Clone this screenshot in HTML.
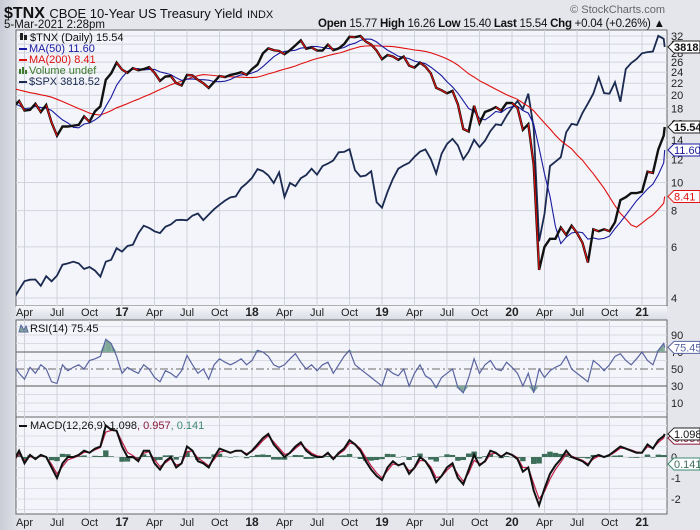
<!DOCTYPE html>
<html><head><meta charset="utf-8"><style>
body{margin:0;background:#fff;}
svg{display:block;font-family:"Liberation Sans",sans-serif;}
</style></head><body>
<svg id="chart" width="700" height="530" viewBox="0 0 700 530">
<defs>
<linearGradient id="bg" x1="0" y1="0" x2="1" y2="0"><stop offset="0" stop-color="#c9ccd6"/><stop offset="0.03" stop-color="#e4e6ec"/><stop offset="1" stop-color="#e4e6ec"/></linearGradient>
<linearGradient id="axg" x1="0" y1="0" x2="0" y2="1"><stop offset="0" stop-color="#f6f7fa"/><stop offset="1" stop-color="#d9dce4"/></linearGradient>
</defs>
<rect x="0" y="0" width="700" height="530" fill="url(#bg)"/>
<rect x="16" y="30" width="651" height="276" fill="#f4f5fa" stroke="#666"/>
<rect x="16" y="306" width="651" height="14" fill="url(#axg)"/>
<rect x="16" y="320" width="651" height="97" fill="#f4f5fa" stroke="#666"/>
<rect x="16" y="417" width="651" height="97" fill="#f4f5fa" stroke="#666"/>
<g id="grid"></g><g id="marks"></g><g id="labels"></g>
<text x="4" y="18" font-size="16" font-weight="bold" fill="#111">$TNX <tspan font-size="13" font-weight="normal">CBOE 10-Year US Treasury Yield</tspan> <tspan font-size="11" font-weight="normal">INDX</tspan></text>
<text x="4" y="28" font-size="11.5" fill="#111">5-Mar-2021 2:28pm</text>
<text x="665" y="13" font-size="11" fill="#666" text-anchor="end">© StockCharts.com</text>
<text x="665" y="27" font-size="11.5" fill="#111" text-anchor="end" textLength="347"><tspan font-weight="bold">Open</tspan> 15.77 <tspan font-weight="bold">High</tspan> 16.26 <tspan font-weight="bold">Low</tspan> 15.40 <tspan font-weight="bold">Last</tspan> 15.54 <tspan font-weight="bold">Chg</tspan> +0.04 (+0.26%) ▲</text>
<g font-size="11">
<rect x="20" y="33" width="3" height="7" fill="#222"/><rect x="24" y="35" width="3" height="5" fill="#222"/>
<text x="30" y="41" fill="#111">$TNX (Daily) 15.54</text>
<rect x="19" y="48" width="8" height="2" fill="#1a1aa0"/><text x="29" y="52" fill="#1a1aa0">MA(50) 11.60</text>
<rect x="19" y="59" width="8" height="2" fill="#e01010"/><text x="29" y="63" fill="#e01010">MA(200) 8.41</text>
<rect x="19" y="69" width="2" height="5" fill="#3a7a2a"/><rect x="22" y="67" width="2" height="7" fill="#3a7a2a"/><rect x="25" y="70" width="2" height="4" fill="#3a7a2a"/><text x="29" y="74" fill="#3a7a2a">Volume undef</text>
<rect x="19" y="81" width="8" height="2" fill="#1a2a50"/><text x="29" y="85" fill="#1a2a50">$SPX 3818.52</text>
</g>
<g font-size="11">
<path d="M19 332 L21 325 L24 330 L26 326 L28 332 Z" fill="#7fa898" stroke="#5a64a0"/>
<text x="30" y="332" fill="#111">RSI(14) 75.45</text>
</g>
<g font-size="11">
<rect x="19" y="425" width="8" height="2" fill="#111"/>
<text x="30" y="429" fill="#111">MACD(12,26,9) 1.098<tspan fill="#8b1a3a">, 0.957</tspan><tspan fill="#3d8a70">, 0.141</tspan></text>
</g>
</svg>
<script>
// ---- data (semi-monthly, Mar 2016 .. Mar 5 2021) ----
const tnxPrior = [22.0,23.5,23.5,22.0,22.0,21.5,21.0,21.5,20.5,20.5,22.0,22.5,22.0,22.5,22.8,22.3,21.0,19.8,17.5,17.4];
const tnx = [18.3,19.1,17.7,17.8,18.7,17.5,18.5,16.1,14.5,15.6,15.6,15.7,15.8,16.9,16.2,17.6,18.3,22.6,23.8,25.9,
24.5,23.9,24.8,24.4,24.6,25.0,23.9,22.4,23.2,23.3,22.0,21.6,23.5,23.4,22.6,22.0,21.2,22.2,23.3,23.1,23.5,23.7,24.0,23.5,
24.6,25.5,27.9,29.0,28.6,28.4,27.7,28.6,29.7,30.9,28.9,29.2,28.5,28.5,29.9,28.6,29.0,30.0,31.8,31.7,32.0,30.6,29.9,28.5,
26.6,27.5,27.2,26.5,27.2,25.3,24.9,25.9,25.1,23.8,21.2,20.8,20.3,20.7,18.6,15.3,15.0,18.4,16.0,17.5,17.8,18.2,17.7,18.8,
18.8,18.1,15.2,15.9,11.5,5.0,6.0,6.4,6.4,7.0,6.6,7.1,6.7,6.2,5.3,6.9,6.8,6.9,6.8,7.3,8.7,8.9,9.2,9.2,
9.3,10.9,10.8,13.0,14.5,15.54];
const spx = [1978,2027,2072,2080,2081,2047,2099,2071,2102,2163,2170,2180,2170,2139,2150,2130,2097,2180,2191,2258,
2238,2271,2279,2347,2395,2381,2360,2349,2388,2402,2430,2432,2429,2459,2472,2430,2465,2500,2529,2557,2579,2585,2643,2675,
2713,2776,2762,2731,2677,2752,2581,2677,2655,2711,2734,2779,2736,2798,2816,2840,2901,2904,2924,2768,2723,2730,2760,2546,
2510,2616,2706,2779,2803,2822,2867,2905,2923,2850,2744,2890,2964,3004,2953,2847,2906,2997,2940,2990,3066,3120,3113,3191,
3258,3316,3248,3380,3090,2300,2470,2799,2830,2864,3056,3124,3115,3215,3294,3381,3527,3385,3380,3483,3310,3605,3662,3701,
3756,3768,3774,3932,3901,3818.52];
const rsi = [55,45,38,52,45,55,50,35,33,55,48,52,55,50,60,62,65,85,80,65,
45,52,48,45,55,50,40,35,48,45,40,48,66,55,45,50,38,55,62,58,55,58,62,55,
60,72,70,65,55,52,55,62,68,58,50,55,48,55,58,45,55,65,72,55,50,45,40,35,
30,50,45,42,50,30,45,55,42,38,28,40,45,50,28,22,40,62,45,55,60,50,48,58,
52,45,30,45,22,50,40,48,52,55,65,50,45,40,35,60,55,48,55,65,68,60,55,62,
70,60,55,72,80,75.45];
const macd = [-0.2,0.3,-0.3,0.1,-0.1,0.1,0.0,-0.5,-1.0,-0.3,0.0,0.0,0.1,0.3,0.2,0.4,0.5,1.5,1.3,1.25,
0.5,0.0,0.0,-0.2,0.3,0.3,-0.3,-0.6,-0.2,0.0,-0.5,-0.3,0.5,0.3,-0.2,-0.3,-0.5,0.0,0.4,0.3,0.2,0.3,0.3,0.1,
0.3,0.6,0.9,1.1,0.6,0.3,0.0,0.2,0.5,0.7,0.3,0.1,0.0,0.0,0.2,-0.1,0.2,0.4,0.8,0.6,0.3,-0.2,-0.6,-0.9,
-1.1,-0.5,-0.2,-0.4,-0.3,-0.8,-0.5,0.0,-0.2,-0.6,-1.2,-0.9,-0.5,-0.3,-1.0,-1.3,-0.6,0.1,-0.4,-0.2,0.3,0.2,0.0,0.2,
0.1,-0.1,-0.7,-0.5,-1.6,-2.3,-1.5,-0.8,-0.4,-0.1,0.3,0.0,-0.1,-0.2,-0.4,0.0,0.1,0.0,0.1,0.3,0.5,0.4,0.3,0.2,
0.2,0.6,0.4,0.8,1.0,1.098];
const priceTicks = [4,6,8,10,12,14,16,18,20,22,24,26,28,30,32];
const rsiTicks = [10,30,50,70,90];
const macdTicks = [-2,-1,0,1];
const quarterLabels = ["Apr","Jul","Oct","17","Apr","Jul","Oct","18","Apr","Jul","Oct","19","Apr","Jul","Oct","20","Apr","Jul","Oct","21"];

// ---- scales ----
const NS="http://www.w3.org/2000/svg";
function tOf(i){ return i===tnx.length-1 ? 2021.175 : 2016.167 + i/24; }
function xT(t){ return 382 + (t-2019)*130; }
function xI(i){ return xT(tOf(i)); }
function yP(v){ return 36 + 126*Math.log(32/v); }
function yS(v){ return 47 + 383*Math.log(3818.52/v); }
function yR(v){ return 369 - (v-50)*0.85; }
function yM(v){ return 457 - v*21; }
const grid=document.getElementById('grid'), marks=document.getElementById('marks'), labels=document.getElementById('labels');
function mk(tag, attrs, parent){ const e=document.createElementNS(NS,tag); for(const k in attrs) e.setAttribute(k, attrs[k]); parent.appendChild(e); return e; }

// grids
priceTicks.forEach(v=>{
  const l=mk('line',{x1:16,x2:667,y1:yP(v),y2:yP(v),stroke:'#d2d5de','stroke-width':1},grid);
  
  
  const t=mk('text',{x:671,y:yP(v)+4,'font-size':11,fill:'#222'},labels);
  t.textContent=v;
  
  
});
for(let v=0; v<=100; v+=10){
  if(v===30||v===70||v===50) continue;
  const l=mk('line',{x1:16,x2:667,y1:yR(v),y2:yR(v),stroke:'#d8dbe3'},grid);
  
  
}
for(let v=-2.5; v<=1.5; v+=0.5){
  const l=mk('line',{x1:16,x2:667,y1:yM(v),y2:yM(v),stroke:'#dcdfe6'},grid);
  
  
}
quarterLabels.forEach((q,k)=>{
  const t=2016.25 + k*0.25, x=xT(t);
  [[30,306],[320,417],[417,514]].forEach(r=>{
    const l=mk('line',{x1:x,x2:x,y1:r[0],y2:r[1],stroke:'#cfd2db'},grid);
    
    
  });
  const bold=/^\d/.test(q);
  [316,526].forEach(y=>{
    const tx=mk('text',{x:x,y:y,'font-size':bold?12:11,'font-weight':bold?'bold':'normal','text-anchor':'middle',fill:'#222'},labels);
    tx.textContent=q;
    
    
  });
});
rsiTicks.forEach(v=>{
  const dark=(v===30||v===70);
  if(dark||v===50){
    const l=mk('line',{x1:16,x2:667,y1:yR(v),y2:yR(v),stroke:v===50?'#888':'#777','stroke-width':1.2,'stroke-dasharray':v===50?'8,3,2,3':'none'},grid);
    
    
  }
  const t=mk('text',{x:671,y:yR(v)+4,'font-size':11,fill:'#222'},labels);
  t.textContent=v;
  
  
});
macdTicks.forEach(v=>{
  const t=mk('text',{x:671,y:yM(v)+4,'font-size':11,fill:'#222'},labels);
  t.textContent=v;
  
  
});

// clip
const defs=document.querySelector('defs');
[['cp',16,30,651,276],['cr',16,320,651,97],['cm',16,417,651,97]].forEach(c=>{
  const cp=mk('clipPath',{id:c[0]},defs); mk('rect',{x:c[1],y:c[2],width:c[3],height:c[4]},cp);
});
const gP=mk('g',{'clip-path':'url(#cp)'},marks), gR=mk('g',{'clip-path':'url(#cr)'},marks), gM=mk('g',{'clip-path':'url(#cm)'},marks);
function pts(arr, yf){ return arr.map((v,i)=>xI(i).toFixed(1)+','+yf(v).toFixed(1)).join(' '); }

// SPX
const sp=mk('polyline',{points:pts(spx,yS),fill:'none',stroke:'#1a2a50','stroke-width':1.8},gP);


// moving averages
const full=tnxPrior.concat(tnx);
function ma(n){ return tnx.map((v,i)=>{ const j=i+tnxPrior.length; const s=full.slice(Math.max(0,j-n+1),j+1); return s.reduce((a,b)=>a+b,0)/s.length; }); }
const ma200=ma(19), ma50=ma(5);
const m2=mk('polyline',{points:pts(ma200,yP),fill:'none',stroke:'#e01010','stroke-width':1.1},gP);


const m5=mk('polyline',{points:pts(ma50,yP),fill:'none',stroke:'#1a1aa0','stroke-width':1.1},gP);


// TNX price
const tl=mk('polyline',{points:pts(tnx,yP),fill:'none',stroke:'#111','stroke-width':2.4},gP);


for(let i=1;i<tnx.length;i++){
  if(tnx[i]<tnx[i-1]){
    const s=mk('line',{x1:xI(i-1),y1:yP(tnx[i-1]),x2:xI(i),y2:yP(tnx[i]),stroke:'#e01010','stroke-width':1.2},gP);
    
    
  }
}
// RSI fills
function rsiFill(level, above){
  for(let i=1;i<rsi.length;i++){
    const a=rsi[i-1], b=rsi[i];
    const ca=above? Math.max(a,level):Math.min(a,level), cb=above?Math.max(b,level):Math.min(b,level);
    if(ca===level && cb===level) continue;
    const p=mk('polygon',{points:`${xI(i-1)},${yR(level)} ${xI(i-1)},${yR(ca)} ${xI(i)},${yR(cb)} ${xI(i)},${yR(level)}`,fill:'#7fa898'},gR);
    
    
  }
}
rsiFill(70,true); rsiFill(30,false);
const rl=mk('polyline',{points:pts(rsi,yR),fill:'none',stroke:'#5a64a0','stroke-width':1.2},gR);


// MACD
const signal=[]; macd.forEach((v,i)=>signal.push(i===0?v:0.7*v+0.3*signal[i-1]));
const bw=5.4;
macd.forEach((v,i)=>{
  const h=v-signal[i];
  const r=mk('rect',{x:xI(i)-bw/2,y:Math.min(yM(0),yM(h)),width:bw,height:Math.abs(yM(h)-yM(0)),fill:'#3d6e5a'},gM);
  
  
});
const sl=mk('polyline',{points:pts(signal,yM),fill:'none',stroke:'#c0204a','stroke-width':1.2},gM);


const ml=mk('polyline',{points:pts(macd,yM),fill:'none',stroke:'#111','stroke-width':2},gM);



// value tags
function tag(y, txt, border, color, bold, name){
  const g=mk('g',{},labels);
  
  
  mk('polygon',{points:`668,${y} 674,${y-6} 700,${y-6} 700,${y+6} 674,${y+6}`,fill:'#fff',stroke:border,'stroke-width':1},g);
  const t=mk('text',{x:674,y:y+4,'font-size':11,'font-weight':bold?'bold':'normal',fill:color},g);
  t.textContent=txt;
}
tag(yS(spx[spx.length-1]),'3818.5','#222','#111',true,'spx-value-tag');
tag(yP(tnx[tnx.length-1]),'15.54','#222','#111',true,'tnx-value-tag');
tag(yP(ma50[ma50.length-1]),'11.60','#1a1aa0','#1a1aa0',false,'ma50-value-tag');
tag(yP(ma200[ma200.length-1]),'8.41','#e01010','#e01010',false,'ma200-value-tag');
tag(yR(rsi[rsi.length-1]),'75.45','#5a64a0','#5a64a0',false,'rsi-value-tag');
tag(yM(signal[signal.length-1])+3,'0.957','#8b1a3a','#8b1a3a',false,'signal-value-tag');
tag(yM(macd[macd.length-1]),'1.098','#222','#111',false,'macd-value-tag');
tag(yM(0)+7,'0.141','#3d8a70','#3d6e5a',false,'histogram-value-tag');
</script>
</body></html>
